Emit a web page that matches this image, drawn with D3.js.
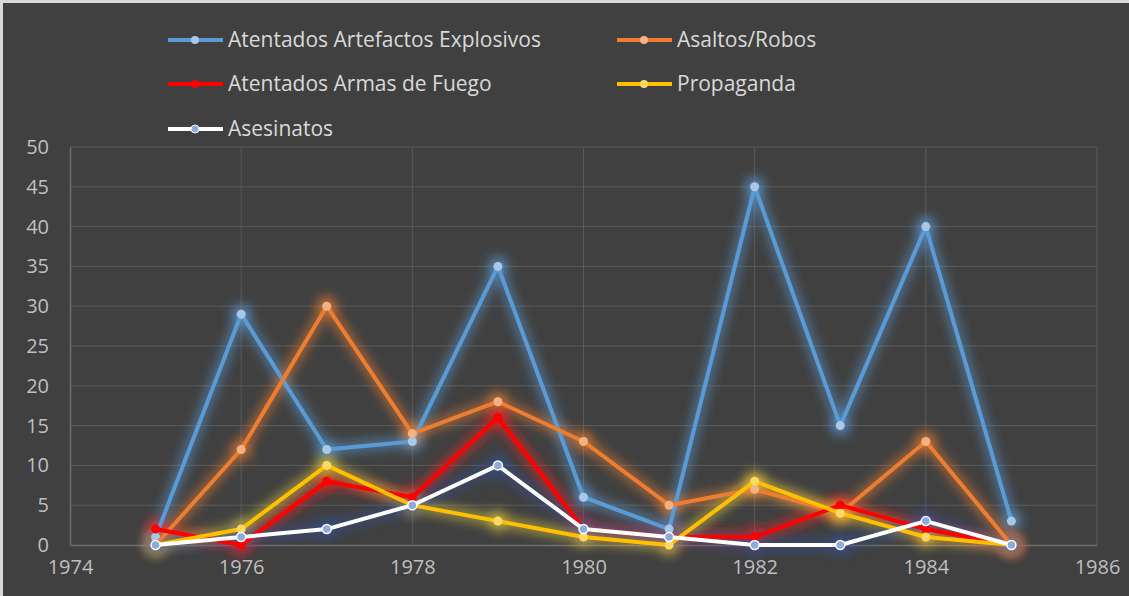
<!DOCTYPE html>
<html>
<head>
<meta charset="utf-8">
<script src="https://cdn.jsdelivr.net/npm/d3@7"></script>
<style>
  html, body { margin: 0; padding: 0; background: #d9d9d9; }
  svg { display: block; }
</style>
</head>
<body>
<script>
const years = [1975, 1976, 1977, 1978, 1979, 1980, 1981, 1982, 1983, 1984, 1985];
const xTicks = [1974, 1976, 1978, 1980, 1982, 1984, 1986];
const yTicks = [0, 5, 10, 15, 20, 25, 30, 35, 40, 45, 50];

const explosivos = [1, 29, 12, 13, 35, 6, 2, 45, 15, 40, 3];
const asaltos = [0, 12, 30, 14, 18, 13, 5, 7, 4, 13, 0];
const armasFuego = [2, 0, 8, 6, 16, 2, 1, 1, 5, 2, 0];
const propaganda = [0, 2, 10, 5, 3, 1, 0, 8, 4, 1, 0];
const asesinatos = [0, 1, 2, 5, 10, 2, 1, 0, 0, 3, 0];

// drawing order = back to front
let series = [
    {name: "Atentados Artefactos Explosivos", values: explosivos, color: "#5b9bd5", marker: "#a9c8e8", glow: "#5b9bd5"},
    {name: "Asaltos/Robos", values: asaltos, color: "#ed7d31", marker: "#f4b183", glow: "#ed7d31"},
    {name: "Atentados Armas de Fuego", values: armasFuego, color: "#ff0000", marker: "#ff0000", glow: "#ff2020"},
    {name: "Propaganda", values: propaganda, color: "#ffc000", marker: "#ffd966", glow: "#e6d040"},
    {name: "Asesinatos", values: asesinatos, color: "#ffffff", marker: "#8faadc", glow: "#3050a0"},
]

let width = 1129, height = 596;

let svg = d3.select("body").append("svg")
    .attr("width", width)
    .attr("height", height);

svg.append("rect")
    .attr("x", 3).attr("y", 3)
    .attr("width", width - 3).attr("height", height - 3)
    .style("fill", "#404040");

let defs = svg.append("defs");
series.forEach((s, i) => {
    let f = defs.append("filter")
        .attr("id", "glow" + i)
        .attr("x", "-20%").attr("y", "-20%")
        .attr("width", "140%").attr("height", "140%");
    f.append("feGaussianBlur").attr("in", "SourceGraphic").attr("stdDeviation", 6).attr("result", "b");
    f.append("feComponentTransfer").attr("in", "b").attr("result", "b2")
        .append("feFuncA").attr("type", "linear").attr("slope", 0.9);
});

let x = d3.scaleLinear().domain([1974, 1986]).range([70, 1097]);
let y = d3.scaleLinear().domain([0, 50]).range([545, 147]);

let font = "'Open Sans', sans-serif";

// grid
svg.append("g").selectAll("line")
    .data(yTicks.slice(1))
    .enter().append("line")
        .attr("x1", x(1974)).attr("x2", x(1986))
        .attr("y1", (d) => y(d)).attr("y2", (d) => y(d))
        .style("stroke", "#5a5a5a").style("stroke-width", 1);

svg.append("g").selectAll("line")
    .data(xTicks.slice(1))
    .enter().append("line")
        .attr("x1", (d) => x(d)).attr("x2", (d) => x(d))
        .attr("y1", y(0)).attr("y2", y(50))
        .style("stroke", "#5a5a5a").style("stroke-width", 1);

// axes
let yAxis = svg.append("g")
    .attr("transform", `translate(${x(1974)},0)`)
    .call(d3.axisLeft(y).tickValues(yTicks).tickSize(0).tickPadding(21));
let xAxis = svg.append("g")
    .attr("transform", `translate(0,${y(0)})`)
    .call(d3.axisBottom(x).tickValues(xTicks).tickFormat(d3.format("d")).tickSize(0).tickPadding(15));

[xAxis, yAxis].forEach((a) => {
    a.select(".domain").style("stroke", "#6e6e6e").style("stroke-width", 1.5);
    a.selectAll("text")
        .style("fill", "#bfbfbf")
        .style("font-family", font)
        .style("font-size", "20px");
});

let line = d3.line()
    .x((d, i) => x(years[i]))
    .y((d) => y(d));

// glow layer
series.forEach((s, i) => {
    let g = svg.append("g").attr("filter", `url(#glow${i})`);
    g.append("path")
        .datum(s.values)
        .attr("d", line)
        .style("fill", "none")
        .style("stroke", s.glow)
        .style("stroke-width", 9)
        .style("stroke-linejoin", "round")
        .style("opacity", 0.75);
    g.selectAll("circle")
        .data(s.values)
        .enter().append("circle")
            .attr("cx", (d, j) => x(years[j]))
            .attr("cy", (d) => y(d))
            .attr("r", 10)
            .style("fill", s.glow)
            .style("opacity", 0.8);
});

// lines + markers
series.forEach((s) => {
    svg.append("path")
        .datum(s.values)
        .attr("d", line)
        .style("fill", "none")
        .style("stroke", s.color)
        .style("stroke-width", 4)
        .style("stroke-linejoin", "round");
    svg.append("g").selectAll("circle")
        .data(s.values)
        .enter().append("circle")
            .attr("cx", (d, j) => x(years[j]))
            .attr("cy", (d) => y(d))
            .attr("r", 4.5)
            .style("fill", s.marker)
            .style("stroke", s.color == "#ffffff" ? "#ffffff" : s.marker)
            .style("stroke-width", s.color == "#ffffff" ? 1.5 : 0);
});

// legend
let legendPos = [
    {lx: 168, ty: 40},
    {lx: 617, ty: 40},
    {lx: 168, ty: 84},
    {lx: 617, ty: 84},
    {lx: 168, ty: 129},
];

let legend = svg.append("g").selectAll("g")
    .data(series)
    .enter().append("g")
        .attr("transform", (d, i) => `translate(${legendPos[i].lx},${legendPos[i].ty})`);

legend.append("line")
    .attr("x1", 0).attr("x2", 55)
    .attr("y1", 0).attr("y2", 0)
    .style("stroke", (d) => d.color)
    .style("stroke-width", 4);
legend.append("circle")
    .attr("cx", 27).attr("cy", 0).attr("r", 4)
    .style("fill", (d) => d.marker)
    .style("stroke", (d) => d.color == "#ffffff" ? "#ffffff" : d.marker)
    .style("stroke-width", (d) => d.color == "#ffffff" ? 1 : 0);
legend.append("text")
    .text((d) => d.name)
    .attr("x", 60)
    .attr("dy", "0.35em")
    .style("fill", "#d9d9d9")
    .style("font-family", font)
    .style("font-size", "21px");
</script>
</body>
</html>
